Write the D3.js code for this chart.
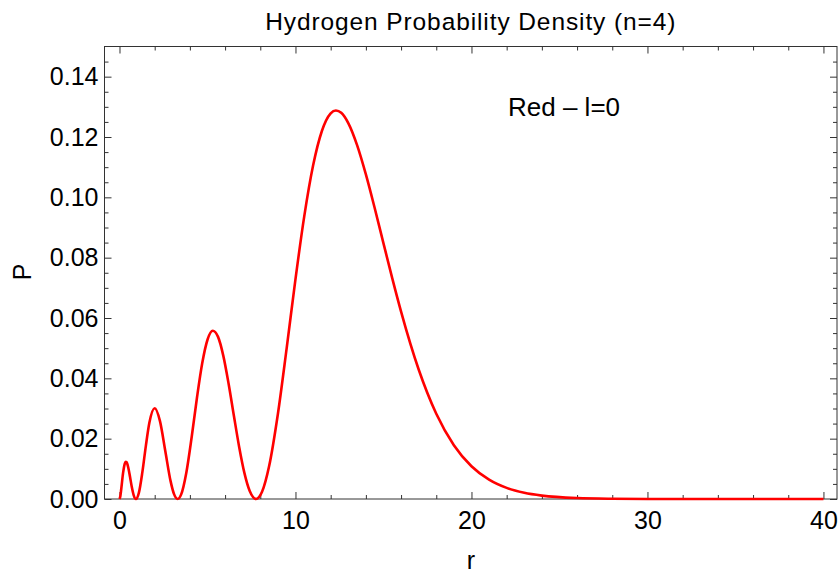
<!DOCTYPE html>
<html>
<head>
<meta charset="utf-8">
<script src="https://cdn.jsdelivr.net/npm/d3@7"></script>
<style>
  body { margin: 0; background: #fff; }
  svg { display: block; font-family: "Liberation Sans", Arial, sans-serif; }
  .axis path { display: none; }
  .axis line { stroke: #333; }
  .axis text { font-size: 25px; fill: #000; }
</style>
</head>
<body>
<svg width="839" height="573"></svg>
<script>
// radius values (Bohr units)
var rValues = [0, 0.05, 0.1, 0.2, 0.3, 0.35, 0.4, 0.5, 0.6, 0.7, 0.8, 0.936,
  1.1, 1.3, 1.5, 1.7, 2.0, 2.3, 2.6, 2.9, 3.1, 3.305,
  3.5, 3.8, 4.1, 4.4, 4.7, 5.0, 5.3, 5.6, 5.9, 6.2, 6.5, 6.8, 7.1, 7.4, 7.759,
  8.1, 8.5, 9, 9.5, 10, 10.5, 11, 11.5, 12, 12.3, 12.6, 13, 13.5, 14, 14.5,
  15, 15.5, 16, 17, 18, 19, 20, 21, 22, 23, 24, 26, 28, 30, 34, 40]

// probability density P at each radius
var pValues = [0, 0.00102, 0.00331, 0.00848, 0.01176, 0.01233, 0.01222, 0.01037, 0.00726, 0.00397, 0.00140, 0,
  0.00203, 0.00890, 0.01771, 0.02532, 0.03007, 0.02581, 0.01598, 0.00601, 0.00161, 0,
  0.00145, 0.00882, 0.02047, 0.03347, 0.04497, 0.05279, 0.05576, 0.05374, 0.04745, 0.03820, 0.02760, 0.01726, 0.00857, 0.00262, 0,
  0.00238, 0.01083, 0.02819, 0.05004, 0.07289, 0.09376, 0.11052, 0.12199, 0.12785, 0.12880, 0.12801, 0.12460, 0.11729, 0.10758, 0.09645,
  0.08475, 0.07314, 0.06211, 0.04292, 0.02825, 0.01783, 0.01086, 0.00642, 0.00369, 0.00207, 0.00113, 0.00032, 0.00009, 0.00002, 0, 0]

var xMajor = [0, 10, 20, 30, 40]
var xMinor = [2, 4, 6, 8, 12, 14, 16, 18, 22, 24, 26, 28, 32, 34, 36, 38]
var yMajor = [0, 0.02, 0.04, 0.06, 0.08, 0.10, 0.12, 0.14]
var yMinor = [0.005, 0.01, 0.015, 0.025, 0.03, 0.035, 0.045, 0.05, 0.055, 0.065, 0.07, 0.075,
  0.085, 0.09, 0.095, 0.105, 0.11, 0.115, 0.125, 0.13, 0.135, 0.145]

var title = 'Hydrogen Probability Density (n=4)'
var note = 'Red \u2013 l=0'

// plot frame edges (note: "top" is a reserved window prop)
var plotLeft = 104.5
var plotRight = 837
var plotTop = 46.5
var plotBottom = 499

var svg = d3.select('svg')

var xScale = d3.scaleLinear()
              .domain([-0.852, 40.77])
              .range([plotLeft, plotRight])

var yScale = d3.scaleLinear()
              .domain([0, 0.15])
              .range([plotBottom, plotTop])

var points = rValues.map((r, i) => [r, pValues[i]])

// frame
svg.append('rect')
  .attr('x', plotLeft)
  .attr('y', plotTop)
  .attr('width', plotRight - plotLeft)
  .attr('height', plotBottom - plotTop)
  .attr('fill', 'none')
  .attr('stroke', '#333')
  .attr('stroke-width', 1)

// bottom ticks + labels
svg.append('g')
  .attr('class', 'axis')
  .attr('transform', `translate(0,${plotBottom})`)
  .call(d3.axisBottom(xScale).tickValues(xMajor).tickSize(-7).tickPadding(12).tickFormat(d3.format('d')))
svg.append('g')
  .attr('class', 'axis')
  .attr('transform', `translate(0,${plotBottom})`)
  .call(d3.axisBottom(xScale).tickValues(xMinor).tickSize(-4).tickFormat(''))

// top ticks
svg.append('g')
  .attr('class', 'axis')
  .attr('transform', `translate(0,${plotTop})`)
  .call(d3.axisTop(xScale).tickValues(xMajor).tickSize(-7).tickFormat(''))
svg.append('g')
  .attr('class', 'axis')
  .attr('transform', `translate(0,${plotTop})`)
  .call(d3.axisTop(xScale).tickValues(xMinor).tickSize(-4).tickFormat(''))

// left ticks + labels
svg.append('g')
  .attr('class', 'axis')
  .attr('transform', `translate(${plotLeft},0)`)
  .call(d3.axisLeft(yScale).tickValues(yMajor).tickSize(-7).tickPadding(6).tickFormat(d3.format('.2f')))
svg.append('g')
  .attr('class', 'axis')
  .attr('transform', `translate(${plotLeft},0)`)
  .call(d3.axisLeft(yScale).tickValues(yMinor).tickSize(-4).tickFormat(''))

// right ticks
svg.append('g')
  .attr('class', 'axis')
  .attr('transform', `translate(${plotRight},0)`)
  .call(d3.axisRight(yScale).tickValues(yMajor).tickSize(-7).tickFormat(''))
svg.append('g')
  .attr('class', 'axis')
  .attr('transform', `translate(${plotRight},0)`)
  .call(d3.axisRight(yScale).tickValues(yMinor).tickSize(-4).tickFormat(''))

// the curve
var line = d3.line()
  .x(d => xScale(d[0]))
  .y(d => yScale(d[1]))
  .curve(d3.curveMonotoneX)

svg.append('path')
  .datum(points)
  .attr('d', line)
  .attr('fill', 'none')
  .attr('stroke', '#ff0000')
  .attr('stroke-width', 2.6)
  .attr('stroke-linejoin', 'round')

// texts
svg.append('text')
  .text(title)
  .attr('x', (plotLeft + plotRight) / 2)
  .attr('y', 30)
  .attr('text-anchor', 'middle')
  .style('font-size', '24.5px')
  .style('letter-spacing', '0.9px')

svg.append('text')
  .text(note)
  .attr('x', 508)
  .attr('y', 116)
  .style('font-size', '26px')

svg.append('text')
  .text('r')
  .attr('x', 471)
  .attr('y', 569)
  .attr('text-anchor', 'middle')
  .style('font-size', '25px')

svg.append('text')
  .text('P')
  .attr('transform', 'translate(31,272) rotate(-90)')
  .attr('text-anchor', 'middle')
  .style('font-size', '25px')
</script>
</body>
</html>
